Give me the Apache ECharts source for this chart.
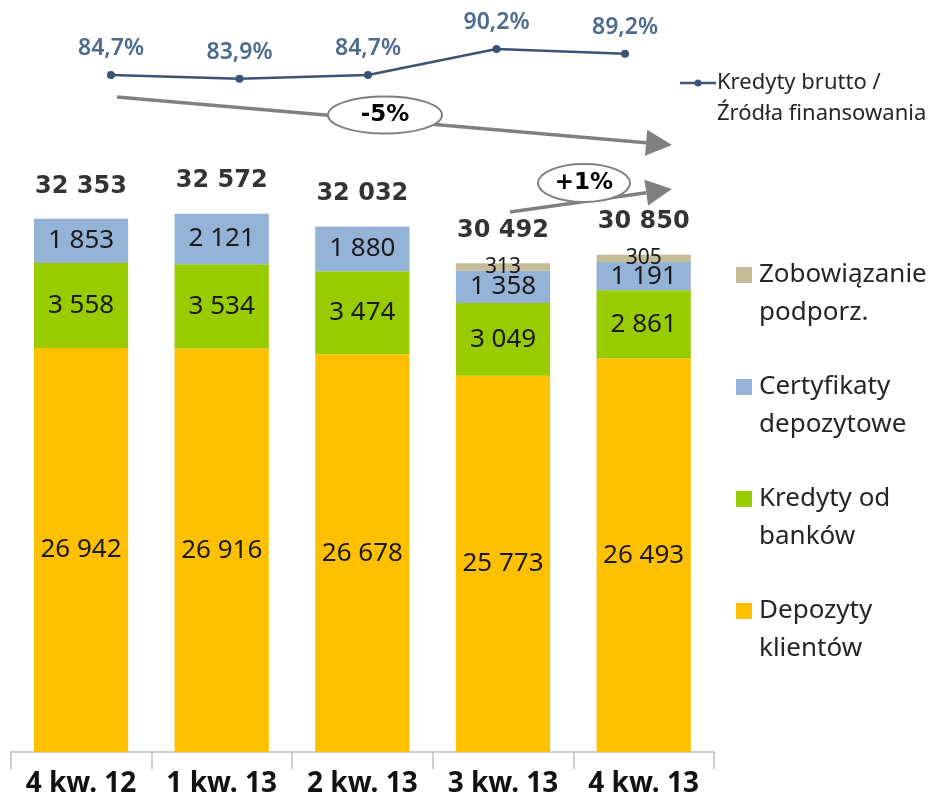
<!DOCTYPE html>
<html>
<head>
<meta charset="utf-8">
<script src="https://cdn.jsdelivr.net/npm/echarts@6/dist/echarts.min.js"></script>
<style>
  html, body { margin: 0; padding: 0; background: #fff; }
  #main { width: 932px; height: 801px; }
</style>
</head>
<body>
<div id="main"></div>
<script>
// dane z wykresu
var categories = ['4 kw. 12', '1 kw. 13', '2 kw. 13', '3 kw. 13', '4 kw. 13'];
var depozyty = [26942, 26916, 26678, 25773, 26493];
var kredytyBanki = [3558, 3534, 3474, 3049, 2861];
var certyfikaty = [1853, 2121, 1880, 1358, 1191];
var zobowiazania = [null, null, null, 313, 305];
var totals = [32353, 32572, 32032, 30492, 30850];
var ratio = [84.7, 83.9, 84.7, 90.2, 89.2];
var ratioLabels = ['84,7%', '83,9%', '84,7%', '90,2%', '89,2%'];

var seriesNames = ['Depozyty\nklientów', 'Kredyty od\nbanków', 'Certyfikaty\ndepozytowe', 'Zobowiązanie\npodporz.'];
var colors = ['#FFC000', '#99CC00', '#95B3D7', '#C4BD97'];
var lineName = 'Kredyty brutto /\nŹródła finansowania';

function fmt(v) {
  return String(v).replace(/\B(?=(\d{3})+(?!\d))/g, ' ');
}

var chart = echarts.init(document.getElementById('main'));

function barSeries(idx, data, fontSize) {
  return {
    name: seriesNames[idx],
    type: 'bar',
    stack: 'total',
    xAxisIndex: 0,
    yAxisIndex: 0,
    barCategoryGap: '33%',
    data: data,
    itemStyle: { color: colors[idx] },
    label: {
      show: true,
      position: 'inside',
      fontFamily: 'Noto Sans',
      fontSize: fontSize,
      color: '#1a1a1a',
      formatter: function (p) { return p.value == null ? '' : fmt(p.value); }
    }
  };
}

// legenda (prawa strona)
var legendGraphics = [];
for (var i = 0; i < 4; i++) {
  var si = 3 - i;
  var y0 = 275 + i * 112;
  legendGraphics.push({
    type: 'rect',
    shape: { x: 736, y: y0 - 8, width: 16, height: 16 },
    style: { fill: colors[si] }
  });
  legendGraphics.push({
    type: 'text',
    x: 759,
    y: y0 - 19,
    style: {
      text: seriesNames[si],
      fontFamily: 'Noto Sans',
      fontSize: 26,
      lineHeight: 38,
      fill: '#262626',
      verticalAlign: 'top'
    }
  });
}

// strzałki
function arrow(x1, y1, x2, y2) {
  var dx = x2 - x1, dy = y2 - y1;
  var len = Math.sqrt(dx * dx + dy * dy);
  var ux = dx / len, uy = dy / len;
  var nx = -uy, ny = ux;
  var bx = x2 - 26 * ux, by = y2 - 26 * uy;
  return [
    {
      type: 'line',
      shape: { x1: x1, y1: y1, x2: bx, y2: by },
      style: { stroke: '#808080', lineWidth: 3.5 }
    },
    {
      type: 'polygon',
      shape: { points: [[x2, y2], [bx + 13 * nx, by + 13 * ny], [bx - 13 * nx, by - 13 * ny]] },
      style: { fill: '#808080' }
    }
  ];
}

function badge(cx, cy, rx, ry, text) {
  return [
    {
      type: 'ellipse',
      shape: { cx: cx, cy: cy, rx: rx, ry: ry },
      style: { fill: '#fff', stroke: '#808080', lineWidth: 2 }
    },
    {
      type: 'text',
      x: cx,
      y: cy,
      style: {
        text: text,
        fontFamily: 'DejaVu Sans',
        fontWeight: 'bold',
        fontSize: 23,
        fill: '#000',
        align: 'center',
        verticalAlign: 'middle'
      }
    }
  ];
}

var graphics = []
  .concat(arrow(117, 97, 672, 145))
  .concat(badge(385, 115, 57, 18.5, '-5%'))
  .concat(arrow(510, 212, 672, 189))
  .concat(badge(584, 183, 46, 19, '+1%'))
  .concat(legendGraphics)
  .concat([
    {
      type: 'line',
      shape: { x1: 680, y1: 83, x2: 716, y2: 83 },
      style: { stroke: '#3B5374', lineWidth: 2.5 }
    },
    {
      type: 'circle',
      shape: { cx: 698, cy: 83, r: 3.5 },
      style: { fill: '#3B5374' }
    },
    {
      type: 'text',
      x: 717,
      y: 67,
      style: {
        text: lineName,
        fontFamily: 'Noto Sans',
        fontSize: 22,
        lineHeight: 31,
        fill: '#262626',
        verticalAlign: 'top'
      }
    }
  ]);

var option = {
  backgroundColor: '#fff',
  animation: false,
  grid: [
    { left: 10.7, right: 218, top: 203.4, bottom: 49 },
    { left: 111, right: 307, top: 26.3, height: 70.9 }
  ],
  xAxis: [
    {
      type: 'category',
      gridIndex: 0,
      data: categories,
      axisLine: { lineStyle: { color: '#bfbfbf', width: 1.5 } },
      axisTick: { show: true, length: 17, lineStyle: { color: '#bfbfbf', width: 1.5 } },
      axisLabel: {
        interval: 0,
        hideOverlap: false,
        margin: 18,
        fontFamily: 'Noto Sans',
        fontWeight: 'bold',
        fontSize: 28,
        color: '#111'
      }
    },
    {
      type: 'category',
      gridIndex: 1,
      data: categories,
      boundaryGap: false,
      show: false
    }
  ],
  yAxis: [
    { type: 'value', gridIndex: 0, min: 10000, max: 33000, show: false, splitLine: { show: false } },
    { type: 'value', gridIndex: 1, min: 80, max: 95, show: false, splitLine: { show: false } }
  ],
  series: [
    barSeries(0, depozyty, 26),
    barSeries(1, kredytyBanki, 26),
    barSeries(2, certyfikaty, 26),
    barSeries(3, zobowiazania, 21),
    {
      name: 'Suma',
      type: 'scatter',
      xAxisIndex: 0,
      yAxisIndex: 0,
      data: totals,
      symbolSize: 1,
      itemStyle: { color: 'rgba(0,0,0,0)' },
      label: {
        show: true,
        position: 'top',
        distance: 20,
        fontFamily: 'DejaVu Sans',
        fontWeight: 'bold',
        fontSize: 24,
        color: '#000',
        formatter: function (p) { return fmt(p.value); }
      },
      z: 5
    },
    {
      name: lineName,
      type: 'line',
      xAxisIndex: 1,
      yAxisIndex: 1,
      data: ratio,
      symbol: 'circle',
      symbolSize: 8,
      lineStyle: { color: '#3B5374', width: 2.5 },
      itemStyle: { color: '#3B5374' },
      label: {
        show: true,
        position: 'top',
        distance: 11,
        fontFamily: 'Noto Sans',
        fontWeight: 600,
        fontSize: 23,
        color: '#4E6B90',
        formatter: function (p) { return ratioLabels[p.dataIndex]; }
      }
    }
  ],
  graphic: graphics
};

chart.setOption(option);
</script>
</body>
</html>
